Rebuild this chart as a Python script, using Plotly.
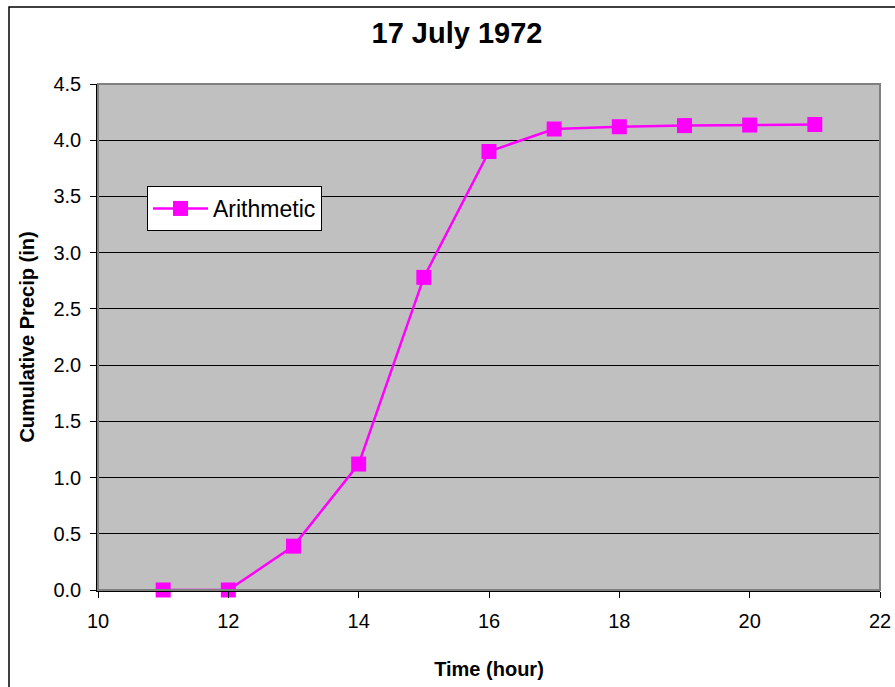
import plotly.graph_objects as go

hours = [11, 12, 13, 14, 15, 16, 17, 18, 19, 20, 21]
precip = [0.0, 0.0, 0.39, 1.12, 2.78, 3.90, 4.10, 4.12, 4.13, 4.135, 4.14]
series_name = "Arithmetic"
title_text = "17 July 1972"
x_title = "Time (hour)"
y_title = "Cumulative Precip (in)"

FONT = "Arial, Liberation Sans, sans-serif"
L, R, T, B = 98, 15, 84, 97
W, H = 895, 687
pw, ph = W - L - R, H - T - B

fig = go.Figure()
fig.add_trace(go.Scatter(
    x=hours, y=precip, name=series_name, mode="lines+markers",
    line=dict(color="#FF00FF", width=2.5),
    marker=dict(symbol="square", size=15, color="#FF00FF"),
    cliponaxis=False, showlegend=True,
))

# outer chart frame
fig.add_shape(type="rect", xref="paper", yref="paper",
              x0=(9 - L) / pw, x1=(W + 20 - L) / pw,
              y0=(H - B - (H + 20)) / ph, y1=(H - B - 7) / ph,
              line=dict(color="black", width=1.5), layer="below")
# plot area gray border (top/right)
fig.add_shape(type="rect", xref="paper", yref="paper", x0=0, x1=1, y0=0, y1=1,
              line=dict(color="#808080", width=2), layer="above")

fig.update_layout(
    width=W, height=H,
    margin=dict(l=L, r=R, t=T, b=B, autoexpand=False),
    paper_bgcolor="white", plot_bgcolor="#C0C0C0",
    font=dict(family=FONT, color="black", size=20),
    title=dict(text="<b>" + title_text + "</b>", x=457 / W, xanchor="center",
               y=1 - 33 / H, yanchor="middle", font=dict(size=29)),
    legend=dict(x=(147 - L) / pw, y=(H - B - 186) / ph, xanchor="left", yanchor="top",
                bgcolor="white", bordercolor="black", borderwidth=1,
                font=dict(size=23), itemwidth=55),
    xaxis=dict(range=[10, 22], dtick=2, tick0=10, showgrid=False, zeroline=False,
               showline=True, linecolor="black", linewidth=1.5,
               ticks="outside", ticklen=6, tickcolor="black", ticklabelstandoff=6,
               title=dict(text="<b>" + x_title + "</b>", standoff=31, font=dict(size=20))),
    yaxis=dict(range=[0, 4.5], dtick=0.5, tickformat=".1f", showgrid=True,
               gridcolor="black", gridwidth=1, zeroline=False,
               showline=True, linecolor="black", linewidth=1.5,
               ticks="outside", ticklen=6, tickcolor="black", ticklabelstandoff=5,
               title=dict(text="<b>" + y_title + "</b>", standoff=13, font=dict(size=20))),
)

fig.write_html("out.html", config={"displayModeBar": False},
               post_script="document.body.style.margin='0';document.body.style.overflow='hidden';")
